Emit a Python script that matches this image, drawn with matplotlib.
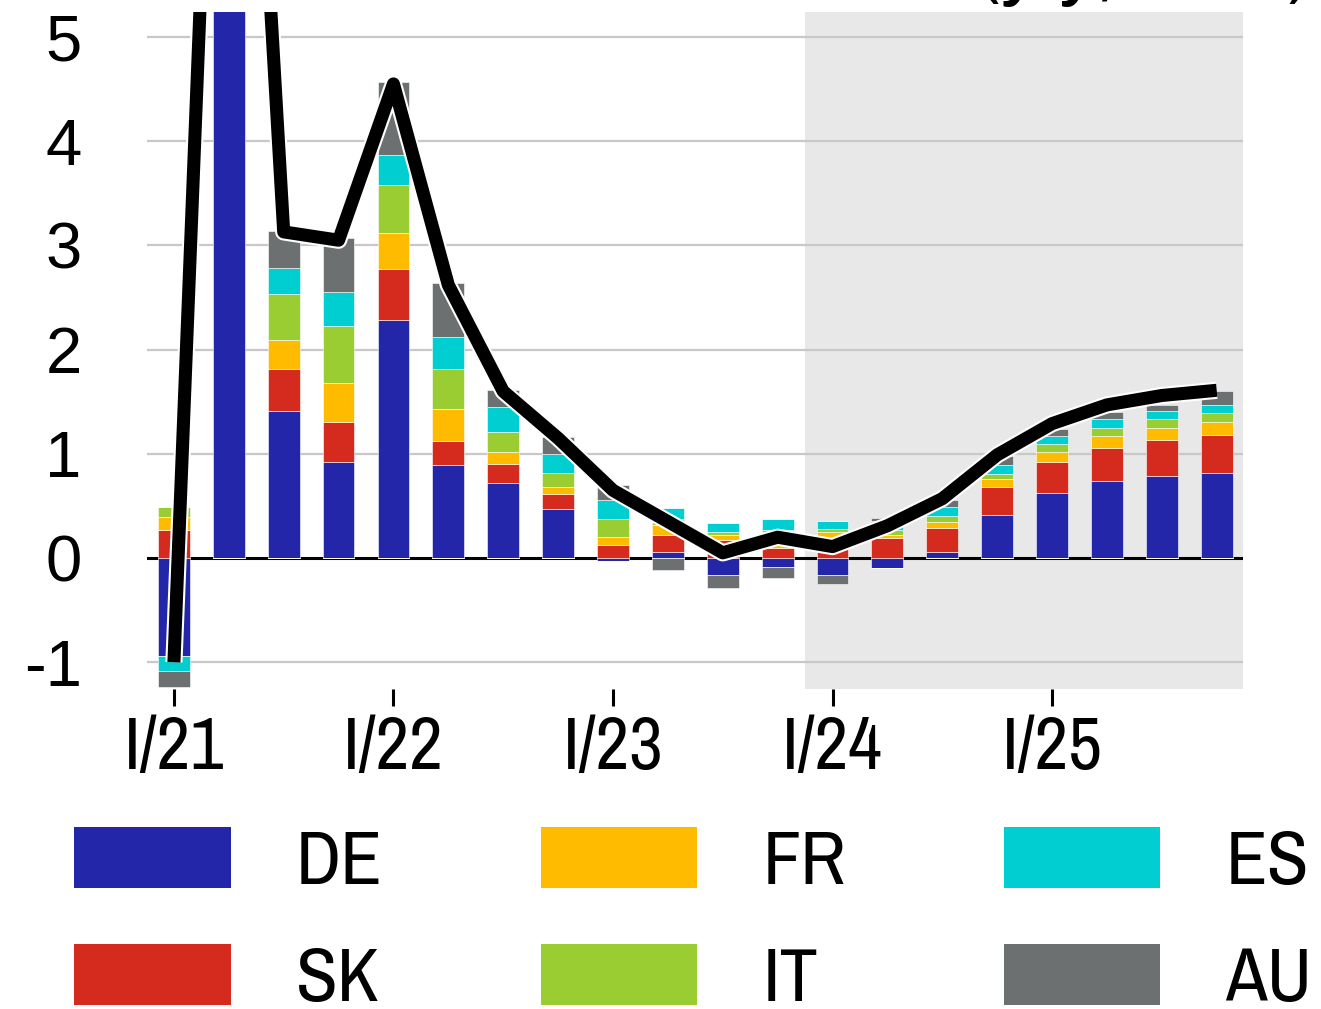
import matplotlib
matplotlib.use("Agg")
import matplotlib.pyplot as plt
import matplotlib.patheffects as pe
from matplotlib.patches import Patch
import numpy as np

# quarters I/21 .. IV/25, contributions in pp
quarters = ['I/21', 'II/21', 'III/21', 'IV/21',
            'I/22', 'II/22', 'III/22', 'IV/22',
            'I/23', 'II/23', 'III/23', 'IV/23',
            'I/24', 'II/24', 'III/24', 'IV/24',
            'I/25', 'II/25', 'III/25', 'IV/25']

DE = [-0.94, 8.50, 1.41, 0.92, 2.28, 0.89, 0.72, 0.47, -0.03, 0.06,
      -0.16, -0.09, -0.16, -0.10, 0.06, 0.41, 0.62, 0.74, 0.79, 0.82]
SK = [0.27, 0.60, 0.40, 0.39, 0.49, 0.23, 0.18, 0.14, 0.13, 0.16,
      0.17, 0.10, 0.10, 0.19, 0.23, 0.27, 0.30, 0.32, 0.34, 0.36]
FR = [0.12, 0.50, 0.28, 0.37, 0.35, 0.31, 0.12, 0.07, 0.07, 0.10,
      0.05, 0.10, 0.15, 0.03, 0.06, 0.08, 0.10, 0.11, 0.12, 0.13]
IT = [0.10, 0.60, 0.44, 0.55, 0.46, 0.38, 0.19, 0.14, 0.17, 0.05,
      0.03, 0.07, 0.03, 0.05, 0.05, 0.045, 0.07, 0.08, 0.08, 0.08]
ES = [-0.14, 0.40, 0.25, 0.32, 0.29, 0.31, 0.24, 0.18, 0.19, 0.11,
      0.09, 0.10, 0.08, 0.09, 0.09, 0.09, 0.08, 0.08, 0.08, 0.08]
AU = [-0.16, 0.40, 0.36, 0.52, 0.70, 0.52, 0.16, 0.16, 0.14, -0.11,
      -0.13, -0.10, -0.09, 0.02, 0.07, 0.08, 0.07, 0.07, 0.06, 0.13]

# total (line)
total = [-1.00, 12.2, 3.13, 3.05, 4.55, 2.62, 1.60, 1.15, 0.65, 0.35,
         0.05, 0.20, 0.11, 0.31, 0.57, 0.99, 1.29, 1.47, 1.56, 1.61]

series = [('DE', DE, '#2326a8'), ('SK', SK, '#d52b1e'), ('FR', FR, '#ffbb00'),
          ('IT', IT, '#9acd32'), ('ES', ES, '#00ced1'), ('AU', AU, '#6d7070')]

tick_labels = ['I/21', 'I/22', 'I/23', 'I/24', 'I/25']
forecast_start = 'I/24'

narrow = ['Archivo Narrow', 'Liberation Sans', 'DejaVu Sans']
plt.rcParams['font.family'] = narrow

fig = plt.figure(figsize=(13.21, 10.09), dpi=100)
ax = fig.add_axes([0.1113, 0.3171, 0.8297, 0.6710])

x = np.arange(len(quarters))
pos_base = np.zeros(len(quarters))
neg_base = np.zeros(len(quarters))
for name, vals, col in series:
    v = np.array(vals, dtype=float)
    p = np.where(v > 0, v, 0)
    n = np.where(v < 0, v, 0)
    ax.bar(x, p, 0.58, bottom=pos_base, color=col, edgecolor='white',
           linewidth=0.4, zorder=3)
    ax.bar(x, n, 0.58, bottom=neg_base, color=col, edgecolor='white',
           linewidth=0.4, zorder=3)
    pos_base += p
    neg_base += n

ax.plot(x, total, color='black', lw=9.4, solid_joinstyle='round',
        solid_capstyle='butt', zorder=5,
        path_effects=[pe.Stroke(linewidth=12.4, foreground='white'), pe.Normal()])

# projection shading
fs = quarters.index(forecast_start) - 0.5
ax.axvspan(fs, 19.48, color='#e8e8e8', lw=0, zorder=0)

ax.set_xlim(-0.49, 19.48)
ax.set_ylim(-1.257, 5.24)

yt = [-1, 0, 1, 2, 3, 4, 5]
for y in yt:
    if y != 0:
        ax.axhline(y, color='#c8c8c8', lw=1.6, zorder=1)
ax.axhline(0, color='black', lw=2.2, zorder=2)

ax.set_yticks(yt)
ax.set_yticklabels([str(v) for v in yt], fontsize=47, family='Liberation Sans')
ax.tick_params(axis='y', length=0, pad=47)

ax.set_xticks([quarters.index(t) for t in tick_labels])
ax.set_xticklabels(tick_labels, fontsize=53)
ax.tick_params(axis='x', length=12, width=2.2, pad=7, color='black')

for s in ax.spines.values():
    s.set_visible(False)

# unit note, mostly above the top edge as in the source
fig.text(1313 / 1321, 1 + 10 / 1009, '(y/y, in %)', ha='right', va='baseline',
         fontsize=66)

handles = [Patch(facecolor=c, edgecolor='none', label=n) for n, _, c in series]
fig.legend(handles=handles, ncol=3, loc='upper left',
           bbox_to_anchor=(74 / 1321, 1 - 827 / 1009), frameon=False,
           fontsize=55, handlelength=2.05, handleheight=0.851,
           handletextpad=0.85, columnspacing=2.07, labelspacing=0.62,
           borderpad=0, borderaxespad=0)

fig.savefig('out.png', dpi=100)
